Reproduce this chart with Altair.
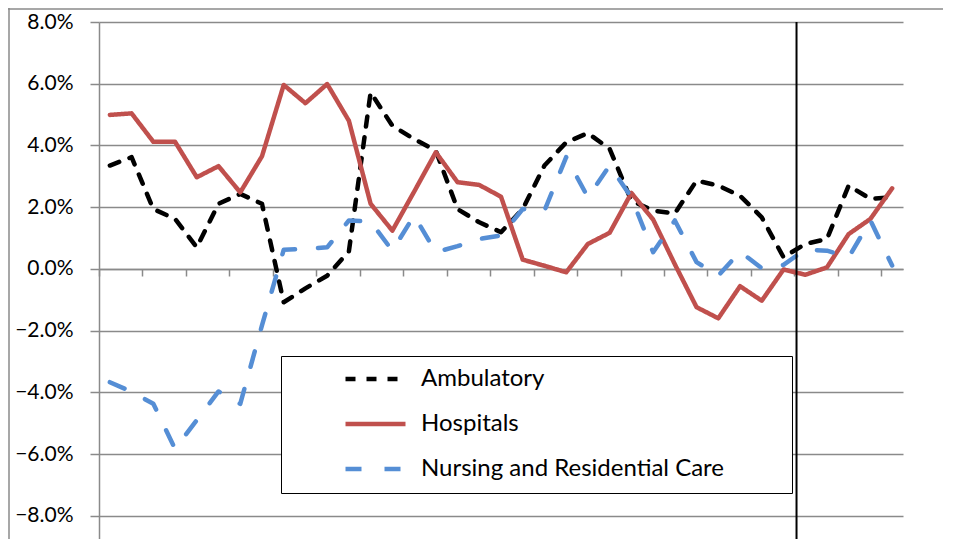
import altair as alt
import pandas as pd

# ---------------- data (percent growth) ----------------
series_names = ["Ambulatory", "Hospitals", "Nursing and Residential Care"]
series_colors = ["#000000", "#C0504D", "#558ED5"]
series_dashes = [[10, 11], [1, 0], [16, 23]]

ambulatory = [3.35, 3.62, 1.94, 1.62, 0.70, 2.11, 2.43, 2.11, -1.08, -0.63,
              -0.22, 0.57, 5.72, 4.64, 4.21, 3.83, 1.94, 1.51, 1.19, 1.94,
              3.35, 4.10, 4.40, 3.89, 2.21, 1.89, 1.80, 2.86, 2.70, 2.37,
              1.67, 0.38, 0.81, 0.97, 2.70, 2.27, 2.32]
hospitals = [4.99, 5.04, 4.12, 4.12, 2.97, 3.33, 2.48, 3.65, 5.96, 5.37,
             5.99, 4.80, 2.11, 1.24, 2.50, 3.78, 2.81, 2.72, 2.34, 0.30,
             0.10, -0.11, 0.81, 1.17, 2.46, 1.60, 0.15, -1.24, -1.60, -0.56,
             -1.03, -0.02, -0.19, 0.05, 1.13, 1.62, 2.61]
nursing = [-3.67, -3.98, -4.37, -5.83, -4.90, -3.97, -4.37, -1.83, 0.62, 0.65,
           0.70, 1.57, 1.53, 0.59, 1.73, 0.54, 0.74, 0.97, 1.08, 1.94,
           1.89, 3.62, 2.32, 3.35, 2.32, 0.54, 1.57, 0.22, -0.22, 0.56,
           0.02, 0.13, 0.63, 0.59, 0.38, 1.57, 0.11]
y_ticks = [-8, -6, -4, -2, 0, 2, 4, 6, 8]
marker_period = 32.1  # vertical marker line position (in period units)

# ---------------- build table ----------------
rows = []
for name, vals in zip(series_names, [ambulatory, hospitals, nursing]):
    for i, v in enumerate(vals):
        rows.append({"series": name, "period": i + 0.5, "value": v / 100.0})
df = pd.DataFrame(rows)

n = len(ambulatory)
W, H = 804, 517
y_min, y_max = -0.0875, 0.08
zero_offset = -round(H * (0 - y_min) / (y_max - y_min))
GRAY = "#8A8A8A"
FONT = "Lato"
# trailing non-breaking spaces (kept by a zero-width char) widen the legend box
pad_text = "\u00a0" * 9 + "\u200b"

x_scale = alt.Scale(domain=[0, n], nice=False, zero=False)
y_scale = alt.Scale(domain=[y_min, y_max], nice=False, zero=False)

legend = alt.Legend(
    title=None, orient="none", legendX=182, legendY=334, direction="vertical",
    symbolType="stroke", symbolSize=3600, symbolStrokeWidth=4.5,
    symbolOffset=50, labelOffset=13, clipHeight=22, rowPadding=21,
    padding=12, strokeColor="black", fillColor="white",
    labelFont=FONT, labelFontSize=24, labelColor="black", labelLimit=900,
    labelExpr="datum.label + '" + pad_text + "'",
)

lines = alt.Chart(df).mark_line(
    strokeWidth=4.5, strokeCap="round", strokeJoin="round"
).encode(
    x=alt.X("period:Q", scale=x_scale,
            axis=alt.Axis(values=list(range(n + 1)), labels=False, title=None,
                          grid=False, tickSize=7, tickWidth=1.5, tickColor=GRAY,
                          domainColor=GRAY, domainWidth=1.5, offset=zero_offset)),
    y=alt.Y("value:Q", scale=y_scale,
            axis=alt.Axis(values=[t / 100 for t in y_ticks], format=".1%", title=None,
                          tickSize=9, tickWidth=1.5, tickColor=GRAY, labelPadding=17,
                          domainColor=GRAY, domainWidth=1.5,
                          gridColor=GRAY, gridWidth=1.5)),
    color=alt.Color("series:N", scale=alt.Scale(domain=series_names, range=series_colors),
                    legend=legend),
    strokeDash=alt.StrokeDash("series:N",
                              scale=alt.Scale(domain=series_names, range=series_dashes),
                              legend=legend),
)

vline = alt.Chart(pd.DataFrame({"period": [marker_period]})).mark_rule(
    color="black", strokeWidth=2
).encode(x=alt.X("period:Q", scale=x_scale), y=alt.value(0), y2=alt.value(H))

one = pd.DataFrame({"k": [0]})
frame_top = alt.Chart(one).mark_rule(color=GRAY, strokeWidth=1.5).encode(
    x=alt.value(-91), x2=alt.value(W + 40), y=alt.value(-13))
frame_left = alt.Chart(one).mark_rule(color=GRAY, strokeWidth=1.5).encode(
    x=alt.value(-90), y=alt.value(-14), y2=alt.value(H))

chart = alt.layer(frame_top, frame_left, lines, vline).properties(
    width=W, height=H,
    autosize=alt.AutoSizeParams(type="none"),
    padding={"left": 91, "top": 14, "right": 40, "bottom": 0},
).configure_axis(
    labelFont=FONT, labelFontSize=21, labelColor="black",
).configure_view(stroke=None)

chart.save("out.html", embed_options={"renderer": "svg", "actions": False})
